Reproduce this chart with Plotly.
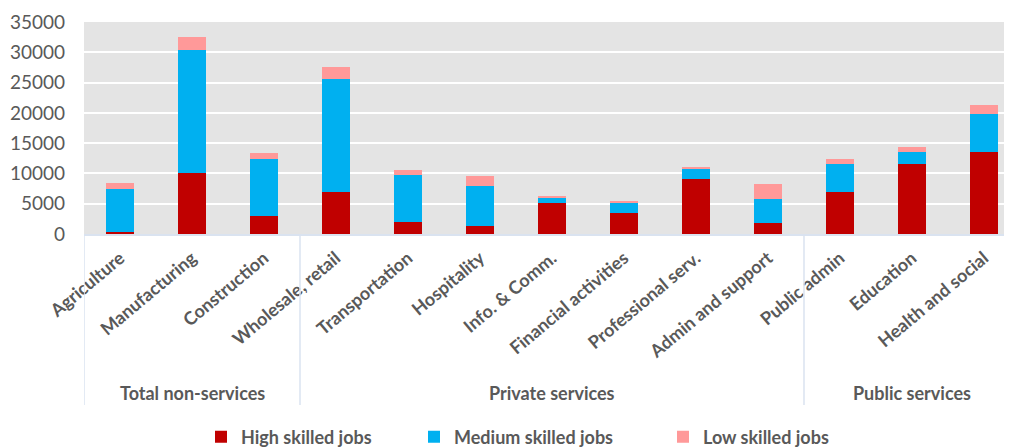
import plotly.graph_objects as go

categories = ["Agriculture", "Manufacturing", "Construction", "Wholesale, retail",
              "Transportation", "Hospitality", "Info. & Comm.", "Financial activities",
              "Professional serv.", "Admin and support", "Public admin", "Education",
              "Health and social"]
groups = ["Total non-services"] * 3 + ["Private services"] * 7 + ["Public services"] * 3

high = [300, 10150, 2900, 6900, 1920, 1320, 5150, 3500, 9000, 1750, 6960, 11570, 13540]
medium = [7050, 20230, 9430, 18640, 7830, 6630, 820, 1650, 1740, 4010, 4610, 1970, 6250]
low = [1150, 2220, 990, 2040, 780, 1590, 170, 220, 230, 2570, 770, 820, 1590]

series_names = ["High skilled jobs", "Medium skilled jobs", "Low skilled jobs"]
colors = ["#C00000", "#00B0F0", "#FF9999"]

FONT = "Lato"
GREY = "#595959"
SEP = "#DAE3F0"

# the page body adds an 8px margin, so the figure is 8px smaller each way
W, H = 1004, 440

fig = go.Figure()
legend_ids = ["legend", "legend2", "legend3"]
for vals, name, col, lg in zip([high, medium, low], series_names, colors, legend_ids):
    fig.add_trace(go.Bar(
        x=categories, y=vals, name=name, marker_color=col,
        marker_line=dict(width=0), width=0.4, legend=lg, showlegend=True,
    ))

# group labels and separators
uniq = []
for g in groups:
    if g not in uniq:
        uniq.append(g)
bounds = []
for g in uniq:
    idx = [i for i, gg in enumerate(groups) if gg == g]
    fig.add_annotation(x=sum(idx) / len(idx), y=-0.75, xref="x", yref="paper",
                       yanchor="middle", xanchor="center",
                       text=f"<b>{g}</b>", showarrow=False,
                       font=dict(family=FONT, size=18, color=GREY))
    bounds.append(min(idx) - 0.5)
    bounds.append(max(idx) + 0.5)
for b in sorted(set(bounds)):
    fig.add_shape(type="line", xref="x", yref="paper", x0=b, x1=b, y0=0, y1=-0.807,
                  line=dict(color=SEP, width=1.5))

fig.update_layout(
    width=W, height=H,
    barmode="stack",
    paper_bgcolor="white", plot_bgcolor="#E4E4E4",
    margin=dict(l=76, r=0, t=14, b=214),
    font=dict(family=FONT, color=GREY),
    xaxis=dict(range=[-0.5, 12.389], tickangle=-40, showgrid=False, automargin=False,
               showline=True, linecolor=SEP, linewidth=1.5, ticklabelstandoff=5,
               tickfont=dict(family=FONT, size=18, color=GREY, weight="bold"),
               ticks=""),
    yaxis=dict(range=[0, 35000], dtick=5000, tickformat="d", showgrid=True,
               gridcolor="white", automargin=False,
               gridwidth=2, zeroline=False, ticks="", ticklabelstandoff=18,
               tickfont=dict(family=FONT, size=19, color=GREY)),
)
leg_common = dict(orientation="h", yanchor="middle", y=1 - 429 / H, xanchor="left",
                  xref="container", yref="container",
                  bgcolor="rgba(0,0,0,0)", itemwidth=30,
                  font=dict(family=FONT, size=18, color=GREY, weight="bold"))
fig.update_layout(
    legend=dict(x=193 / W, **leg_common),
    legend2=dict(x=406 / W, **leg_common),
    legend3=dict(x=655 / W, **leg_common),
)
fig.write_html("out.html")
